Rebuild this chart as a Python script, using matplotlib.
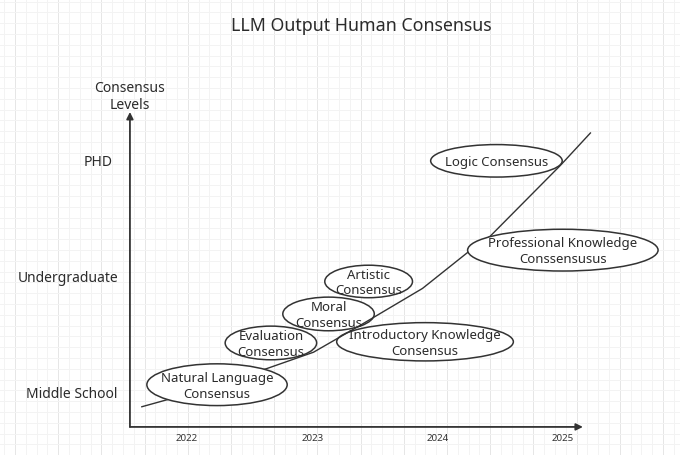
import numpy as np
import matplotlib
matplotlib.use("Agg")
import matplotlib.pyplot as plt
from matplotlib.patches import Ellipse

plt.rcParams['font.family'] = ['Noto Sans', 'DejaVu Sans']

# data
years = [2022, 2023, 2024, 2025]
level_names = ["Middle School", "Undergraduate", "PHD"]
level_values = [1, 2, 3]

# growth curve (year, level)
curve_x = [2021.64, 2021.84, 2022.64, 2023.01, 2023.38, 2023.88,
           2024.24, 2024.42, 2024.98, 2025.22]
curve_y = [0.89, 0.95, 1.22, 1.36, 1.59, 1.91, 2.22, 2.36, 2.97, 3.25]

# consensus bubbles
labels = ["Natural Language\nConsensus", "Evaluation\nConsensus", "Moral\nConsensus",
          "Artistic\nConsensus", "Introductory Knowledge\nConsensus",
          "Professional Knowledge\nConssensusus", "Logic Consensus"]
label_x = [2022.24, 2022.67, 2023.13, 2023.45, 2023.90, 2025.00, 2024.47]
label_y = [1.08, 1.44, 1.69, 1.97, 1.45, 2.24, 3.01]

# bubble sizes (years, levels) and layering
bub_w = [1.12, 0.73, 0.73, 0.70, 1.41, 1.52, 1.05]
bub_h = [0.36, 0.29, 0.29, 0.28, 0.33, 0.36, 0.28]
bub_z = [3, 2, 2, 2, 2, 3, 2]

fig = plt.figure(figsize=(6.8, 4.56), dpi=100)

# background grid like a drawing canvas (pixel units)
bg = fig.add_axes([0, 0, 1, 1])
bg.set_xlim(0, 680)
bg.set_ylim(456, 0)
for v in np.arange(4.2, 680, 10.8):
    major = abs(((v - 15) / 43.2) - round((v - 15) / 43.2)) < 0.05
    bg.axvline(v, color='#e6e6e6' if major else '#f3f3f3', lw=0.7, zorder=0)
for h in np.arange(2.6, 456, 10.8):
    major = abs(((h - 41) / 43.2) - round((h - 41) / 43.2)) < 0.05
    bg.axhline(h, color='#e6e6e6' if major else '#f3f3f3', lw=0.7, zorder=0)
bg.axis('off')

ax = fig.add_axes([0, 0, 1, 1])
ax.patch.set_alpha(0)
ax.set_xlim(2020.508, 2025.935)
ax.set_ylim(0.474, 4.405)
ax.axis('off')

x0, y0 = 2021.545, 0.716
ax.annotate("", xy=(x0, 3.431), xytext=(x0, y0),
            arrowprops=dict(arrowstyle='-|>', color='#333333', lw=1.3,
                            mutation_scale=10, shrinkA=0, shrinkB=0))
ax.annotate("", xy=(2025.16, y0), xytext=(x0, y0),
            arrowprops=dict(arrowstyle='-|>', color='#333333', lw=1.3,
                            mutation_scale=10, shrinkA=0, shrinkB=0))

ax.plot(curve_x, curve_y, color='#333333', lw=1.0, zorder=2.5)

for lab, x, y, w, h, z in zip(labels, label_x, label_y, bub_w, bub_h, bub_z):
    ax.add_patch(Ellipse((x, y), w, h, facecolor='white', edgecolor='#333333',
                         lw=1.1, zorder=z))
    ax.text(x, y - 0.005, lab, ha='center', va='center', fontsize=9.5,
            color='#2b2b2b', linespacing=1.25, zorder=4)

for yr in years:
    ax.text(yr, 0.629, str(yr), ha='center', va='center', fontsize=7, color='#333333')

level_label_x = [2021.08, 2021.05, 2021.29]
for name, lv, lx in zip(level_names, level_values, level_label_x):
    ax.text(lx, lv, name, ha='center', va='center', fontsize=10, color='#2b2b2b')

ax.text(x0, 3.569, "Consensus\nLevels", ha='center', va='center', fontsize=10,
        color='#2b2b2b', linespacing=1.15)

fig.text(0.531, 0.943, "LLM Output Human Consensus", ha='center', va='center',
         fontsize=12.8, color='#2b2b2b')

fig.savefig("out.png", dpi=100)
